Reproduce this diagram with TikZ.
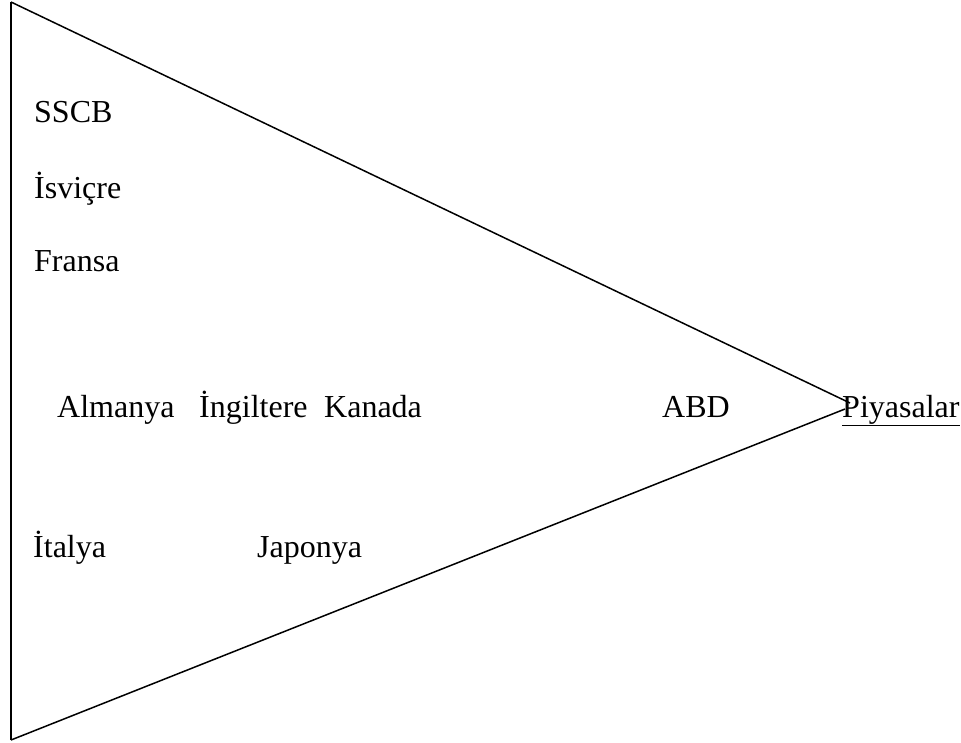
\documentclass[tikz,border=0pt]{standalone}
\usepackage{fontspec}
\setmainfont{Liberation Serif}
\usetikzlibrary{positioning}

\begin{document}
\begin{tikzpicture}[
    x=1pt, y=-1pt,
    every node/.style={font=\fontsize{32}{38}\selectfont, inner sep=0pt},
    country/.style={anchor=base west},
    side/.style={line width=1.5pt, black},
    base/.style={line width=2.2pt, black}
]
\useasboundingbox (0,0) rectangle (961,742);

% ---------------- triangle ----------------
\coordinate (top) at (11,2);
\coordinate (bottom) at (11,740);
\coordinate (tipA) at (850,403);
\coordinate (tipB) at (845,409);

\draw[base] (top) -- (bottom);
\draw[side] (top) -- (tipA);
\draw[side] (bottom) -- (tipB);

% ---------------- countries ----------------
\node[country] (sscb) at (34,122) {SSCB};
\node[country] (isvicre) at (34,198) {İsviçre};
\node[country] (fransa) at (34,271) {Fransa};

\node[country] (almanya) at (57,417) {Almanya};
\node[country] (ingiltere) at (199,417) {İngiltere};
\node[country] (kanada) at (324,417) {Kanada};
\node[country] (abd) at (662,417) {ABD};

\node[country] (italya) at (33,557) {İtalya};
\node[country] (japonya) at (257,557) {Japonya};

% ---------------- label ----------------
\node[country] (piyasalar) at (842,417) {\underline{Piyasalar}};

\end{tikzpicture}
\end{document}
